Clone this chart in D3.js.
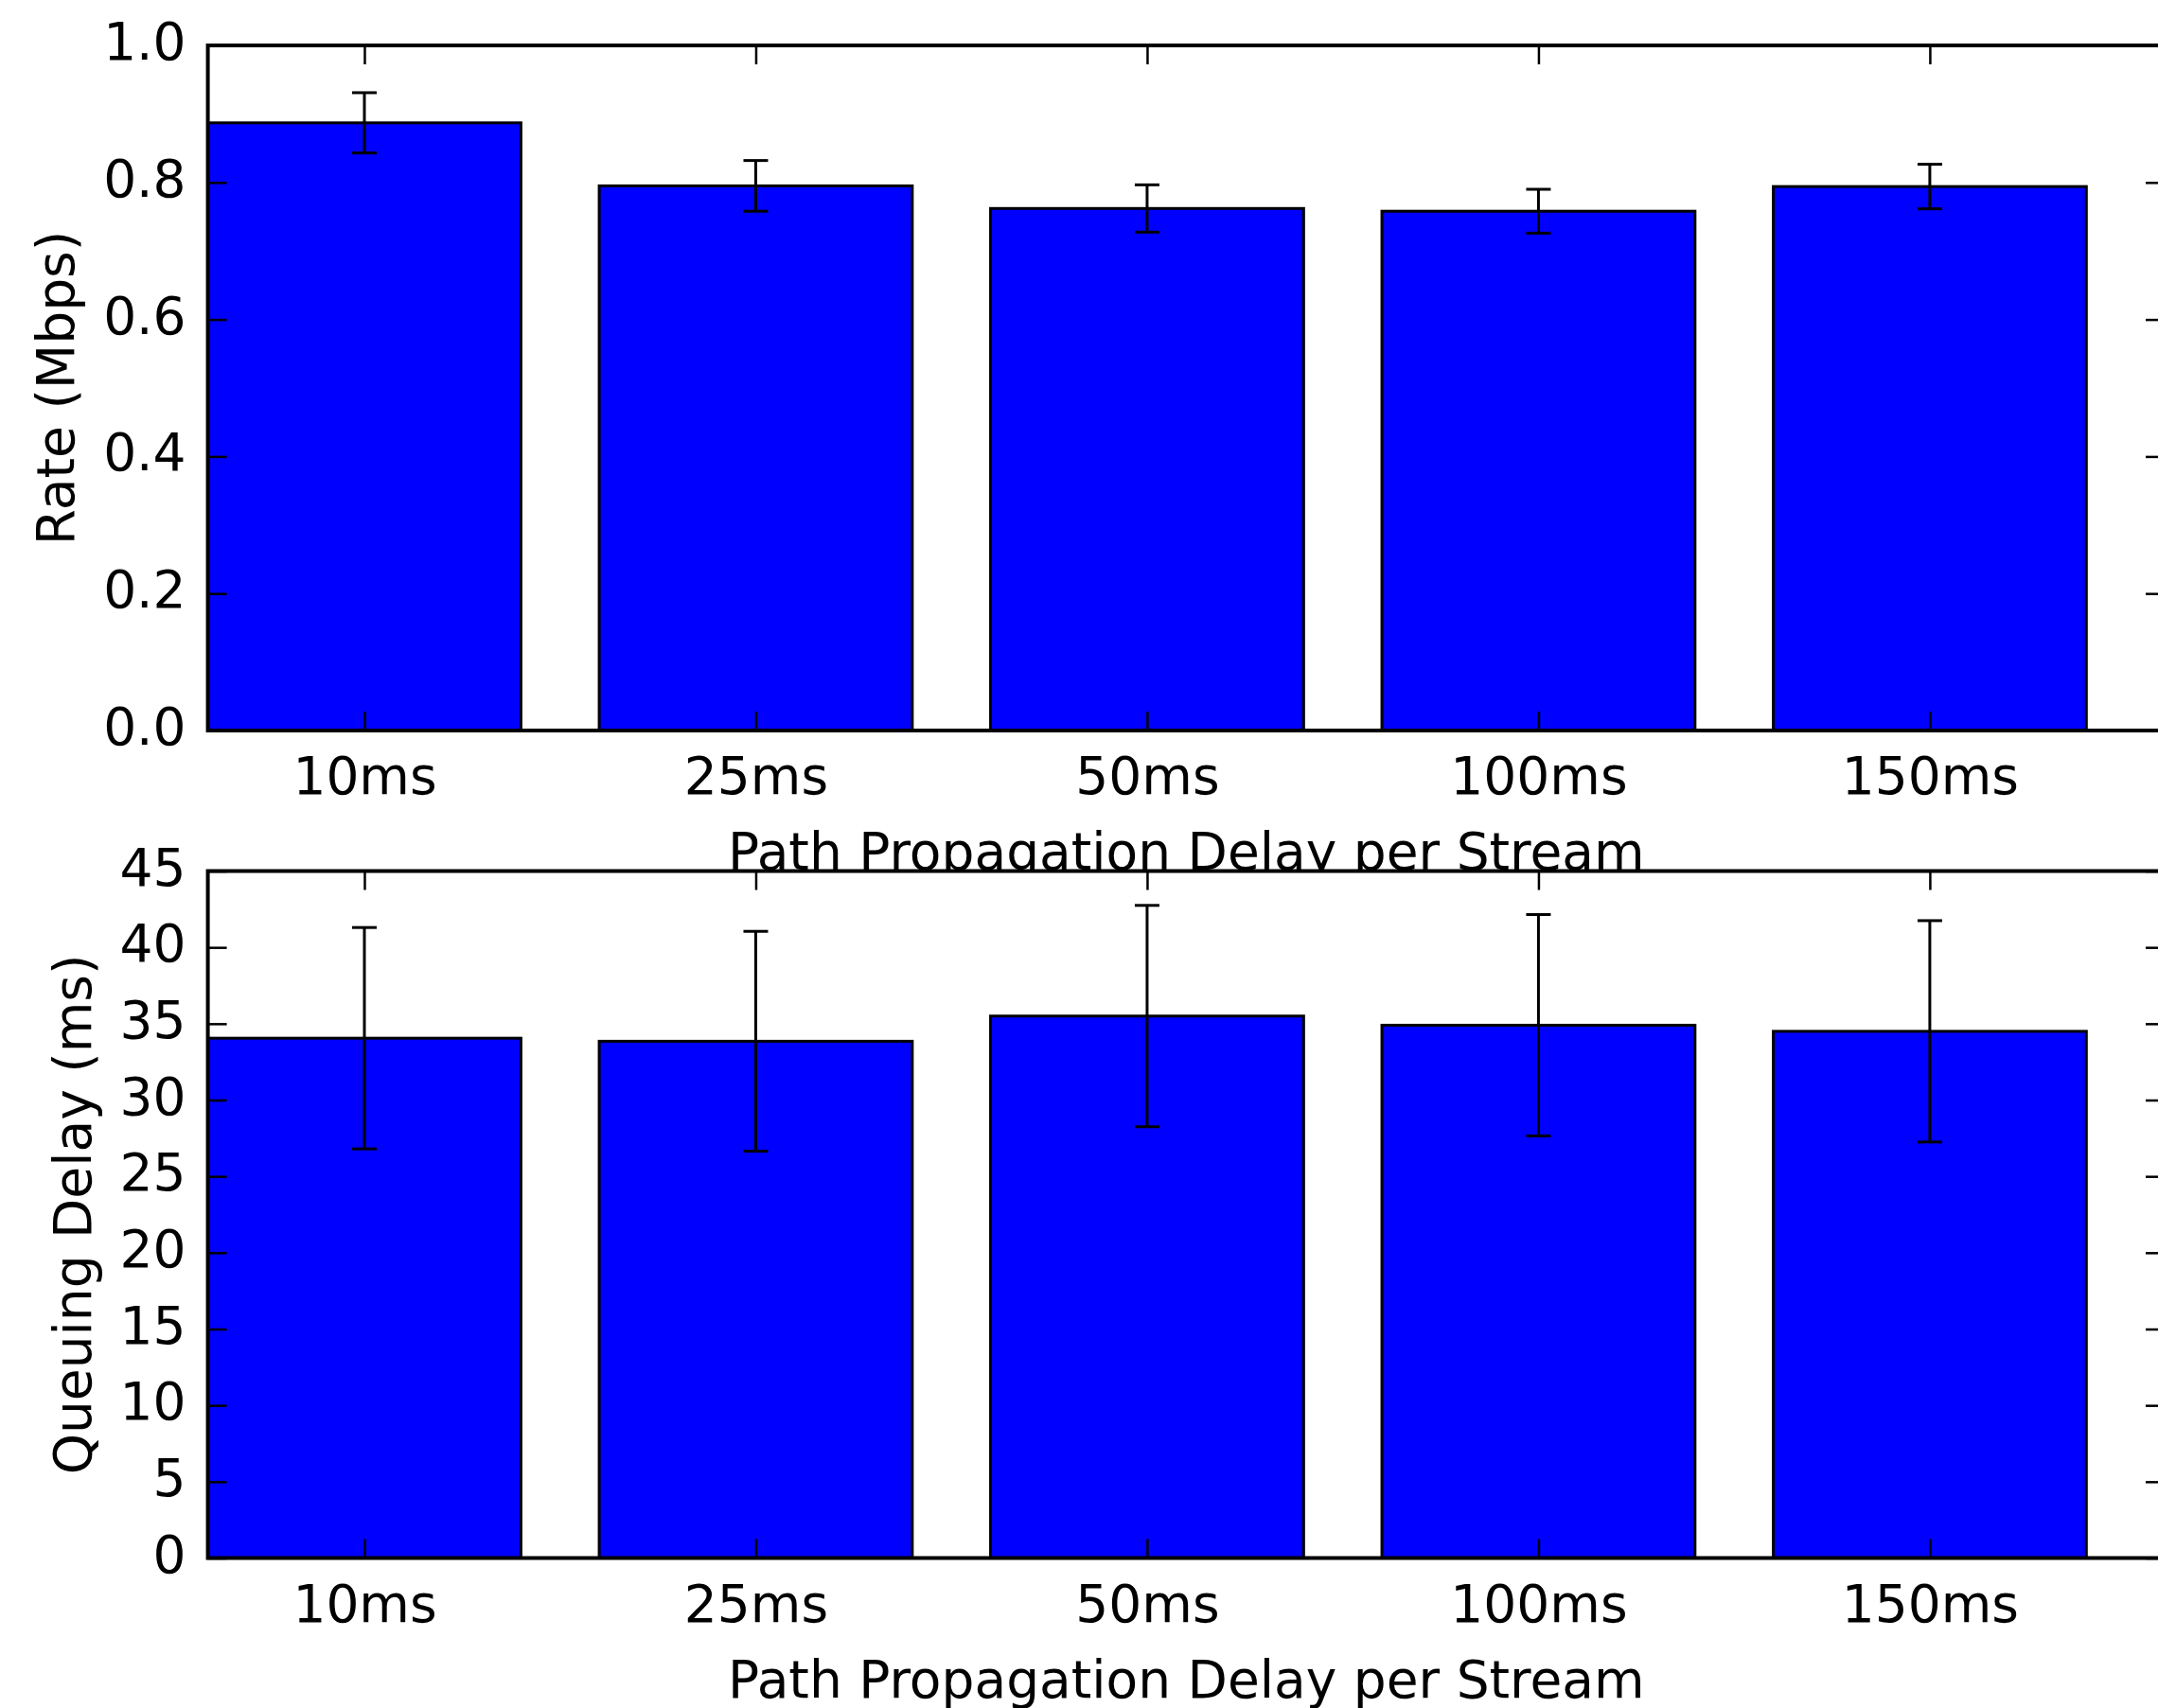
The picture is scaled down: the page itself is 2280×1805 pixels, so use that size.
<!DOCTYPE html>
<html>
<head>
<meta charset="utf-8">
<script src="https://cdn.jsdelivr.net/npm/d3@7"></script>
<style>
  html, body { margin: 0; padding: 0; background: #ffffff; }
  svg { display: block; }
  text { font-family: "DejaVu Sans", sans-serif; fill: #000; }
</style>
</head>
<body>
<svg id="chart" width="2280" height="1805"></svg>
<script>
// Path propagation delay settings (one bar per setting)
const categories = ["10ms", "25ms", "50ms", "100ms", "150ms"];

// Throughput per stream (Mbps) with standard deviation
const rateMean = [0.887, 0.795, 0.762, 0.758, 0.794];
const rateErr  = [0.044, 0.037, 0.0345, 0.032, 0.0325];

// Queuing delay (ms) with standard deviation
const delayMean = [34.05, 33.85, 35.5, 34.9, 34.5];
const delayErr  = [7.25, 7.2, 7.25, 7.25, 7.25];

// Tick values for the two y axes
const rateTicks  = [0.0, 0.2, 0.4, 0.6, 0.8, 1.0];
const delayTicks = [0, 5, 10, 15, 20, 25, 30, 35, 40, 45];

const xLabel = "Path Propagation Delay per Stream";

const W = 2280, H = 1805;
const FONT = 55;
const svg = d3.select("#chart");
svg.append("rect").attr("width", W).attr("height", H).attr("fill", "#fff");

// shared horizontal scale: bars centred on integer positions, width 0.8
const left = 219.6, right = 2287;
const x = d3.scaleLinear().domain([-0.4, 4.6]).range([left, right]);
const barW = 0.8;

function panel(opts) {
  const { top, bottom, yDomain, ticks, fmt, mean, err, yLabel, yLabelX } = opts;
  const y = d3.scaleLinear().domain(yDomain).range([bottom, top]);
  const g = svg.append("g");

  // axes background (white, also hides anything drawn underneath)
  g.append("rect")
    .attr("x", left).attr("y", top)
    .attr("width", right - left).attr("height", bottom - top)
    .attr("fill", "#fff");

  // bars
  g.selectAll("rect.bar").data(mean).join("rect")
    .attr("class", "bar")
    .attr("x", (d, i) => x(i - barW / 2))
    .attr("width", (d, i) => x(i + barW / 2) - x(i - barW / 2))
    .attr("y", d => y(d))
    .attr("height", d => y(yDomain[0]) - y(d))
    .attr("fill", "#0000ff")
    .attr("stroke", "#000")
    .attr("stroke-width", 3);

  // error bars
  const eg = g.append("g").attr("stroke", "#000").attr("stroke-width", 3).attr("fill", "none");
  mean.forEach((m, i) => {
    const cx = x(i), y1 = y(m + err[i]), y0 = y(m - err[i]), cap = 13;
    eg.append("line").attr("x1", cx).attr("x2", cx).attr("y1", y1).attr("y2", y0);
    eg.append("line").attr("x1", cx - cap).attr("x2", cx + cap).attr("y1", y1).attr("y2", y1);
    eg.append("line").attr("x1", cx - cap).attr("x2", cx + cap).attr("y1", y0).attr("y2", y0);
  });

  const tickLen = 20;
  const idx = d3.range(categories.length);

  // left axis with labels, ticks pointing inward
  const ay = g.append("g").attr("transform", `translate(${left},0)`)
    .call(d3.axisLeft(y).tickValues(ticks).tickFormat(fmt).tickSizeInner(-tickLen).tickSizeOuter(0).tickPadding(23));
  // right axis ticks only
  const ayr = g.append("g").attr("transform", `translate(${right},0)`)
    .call(d3.axisRight(y).tickValues(ticks).tickFormat("").tickSizeInner(-tickLen).tickSizeOuter(0));
  // bottom axis with category labels
  const axb = g.append("g").attr("transform", `translate(0,${bottom})`)
    .call(d3.axisBottom(x).tickValues(idx).tickFormat(i => categories[i]).tickSizeInner(-tickLen).tickSizeOuter(0));
  // top axis ticks only
  const axt = g.append("g").attr("transform", `translate(0,${top})`)
    .call(d3.axisTop(x).tickValues(idx).tickFormat("").tickSizeInner(-tickLen).tickSizeOuter(0));

  [ay, ayr, axb, axt].forEach(a => {
    a.select(".domain").remove();
    a.selectAll(".tick line").attr("stroke", "#000").attr("stroke-width", 2.5);
    a.selectAll("text").attr("font-size", FONT);
    a.attr("font-family", null).attr("font-size", null);
  });
  ay.selectAll(".tick text").attr("dy", null).attr("y", 14.5);
  axb.selectAll(".tick text").attr("dy", null).attr("y", 67);

  // frame
  g.append("rect")
    .attr("x", left).attr("y", top)
    .attr("width", right - left).attr("height", bottom - top)
    .attr("fill", "none").attr("stroke", "#000").attr("stroke-width", 4);

  // axis titles
  g.append("text")
    .attr("x", (left + right) / 2).attr("y", bottom + 147)
    .attr("text-anchor", "middle").attr("font-size", FONT)
    .text(xLabel);
  g.append("text")
    .attr("transform", `translate(${yLabelX},${(top + bottom) / 2}) rotate(-90)`)
    .attr("text-anchor", "middle").attr("font-size", FONT)
    .text(yLabel);
}

panel({
  top: 48, bottom: 772, yDomain: [0, 1], ticks: rateTicks, fmt: d3.format(".1f"),
  mean: rateMean, err: rateErr, yLabel: "Rate (Mbps)", yLabelX: 78
});
panel({
  top: 920.5, bottom: 1646.5, yDomain: [0, 45], ticks: delayTicks, fmt: d3.format("d"),
  mean: delayMean, err: delayErr, yLabel: "Queuing Delay (ms)", yLabelX: 96
});
</script>
</body>
</html>
